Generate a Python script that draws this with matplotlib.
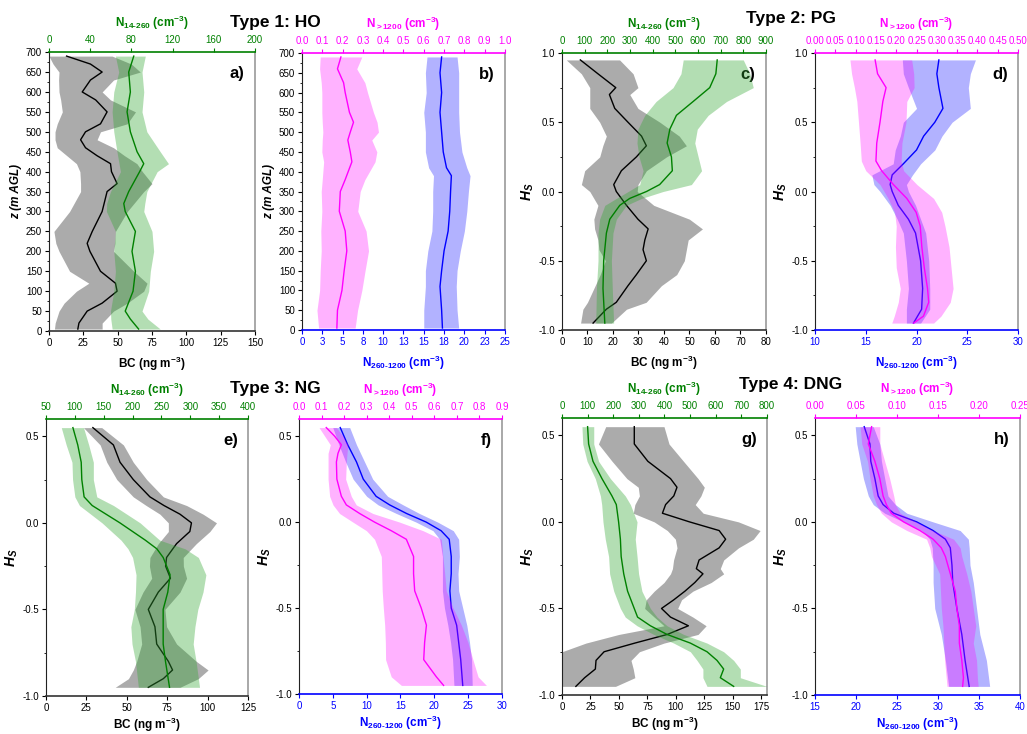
import numpy as np
import matplotlib
matplotlib.use('Agg')
import matplotlib.pyplot as plt
from matplotlib.ticker import MultipleLocator

plt.rcParams['font.family'] = ['Liberation Sans', 'DejaVu Sans']
plt.rcParams['mathtext.fontset'] = 'custom'
plt.rcParams['mathtext.rm'] = 'Liberation Sans:bold'
plt.rcParams['mathtext.bf'] = 'Liberation Sans:bold'
plt.rcParams['mathtext.it'] = 'Liberation Sans:italic:bold'
plt.rcParams['axes.unicode_minus'] = False

# ---------------- Type 1: HO ----------------
# a) BC (bottom axis)
a_bc_z = [5, 20, 50, 70, 100, 120, 150, 200, 220, 250, 300, 350, 370, 400, 420, 440,
          460, 480, 500, 520, 550, 580, 600, 630, 650, 670, 690]
a_bc = [21, 21.8, 27.8, 38.7, 49.6, 48.4, 37.5, 29.8, 27.8, 31.5, 38.7, 42.3, 49.6, 45.5,
        44.8, 35, 26.6, 23, 26.6, 37.5, 42.3, 34, 24.2, 30.2, 38.7, 30.2, 12.8]
a_bc_lo = [4, 4.5, 7.3, 11, 20, 29, 15, 7.3, 5, 3.6, 15, 23, 23, 22.5, 20, 13, 6, 4.4,
           4.4, 6, 9.7, 8.5, 7.3, 7, 7.3, 3, 0]
a_bc_hi = [38.7, 38.7, 47, 57, 69, 71.4, 61.7, 47, 48, 48.4, 57, 69, 75, 68, 64, 55, 47,
           35, 37.5, 56.9, 63, 44.8, 38.7, 47, 66.5, 60, 46]
# a) N14-260 (top axis)
a_n_z = [5, 30, 50, 100, 150, 200, 250, 300, 320, 350, 400, 420, 450, 500, 550, 600, 650, 690]
a_n = [87, 79, 74, 81.6, 83.9, 80.6, 83.9, 74, 72.6, 77.4, 88, 92, 85.5, 79, 75.8, 79, 77.4, 82.3]
a_n_lo = [61.3, 60, 59.7, 62.9, 64.5, 62.9, 64.5, 55.8, 56, 59.7, 69.4, 68, 66, 62.9, 61.3,
          62.9, 67.7, 64.5]
a_n_hi = [108, 96, 90.3, 96.8, 98.4, 101.6, 100, 92, 93, 95, 105, 116, 108, 95, 90.3, 92,
          90.3, 93.5]

# b) N260-1200 (bottom axis)
b_nb_z = [5, 50, 110, 150, 200, 250, 300, 350, 390, 410, 450, 500, 550, 600, 650, 690]
b_nb = [17.3, 17.2, 17.0, 17.2, 17.5, 18.0, 18.2, 18.3, 18.4, 17.8, 17.4, 17.2, 17.0, 17.2, 17.0, 17.2]
b_nb_lo = [15.0, 15.0, 15.2, 15.2, 15.5, 16.0, 16.1, 16.1, 16.2, 15.6, 15.2, 15.2, 15.0, 15.3, 15.2, 15.4]
b_nb_hi = [19.3, 19.1, 19.0, 19.1, 19.5, 20.0, 20.3, 20.5, 20.7, 20.3, 19.7, 19.4, 19.3, 19.3, 19.3, 19.1]
# b) N>1200 (top axis)
b_nt_z = [5, 50, 100, 150, 200, 250, 300, 350, 380, 425, 450, 480, 500, 525, 550, 600, 625, 660, 690]
b_nt = [0.172, 0.175, 0.197, 0.208, 0.221, 0.213, 0.184, 0.189, 0.213, 0.246, 0.238, 0.226,
        0.238, 0.254, 0.234, 0.213, 0.205, 0.175, 0.192]
b_nt_lo = [0.082, 0.074, 0.087, 0.09, 0.095, 0.093, 0.098, 0.095, 0.1, 0.107, 0.098, 0.1,
           0.103, 0.1, 0.098, 0.098, 0.095, 0.087, 0.09]
b_nt_hi = [0.262, 0.274, 0.295, 0.311, 0.328, 0.316, 0.275, 0.287, 0.31, 0.36, 0.369, 0.344,
           0.377, 0.37, 0.352, 0.323, 0.31, 0.27, 0.295]

# ---------------- Type 2: PG ----------------
c_bc_h = [0.95, 0.85, 0.75, 0.7, 0.6, 0.5, 0.4, 0.33, 0.25, 0.15, 0.05, 0.0, -0.1, -0.2,
          -0.27, -0.35, -0.42, -0.5, -0.6, -0.68, -0.8, -0.85, -0.95]
c_bc = [7.2, 14.1, 21.1, 18.6, 20.7, 25.9, 31.2, 33.1, 29.2, 23.3, 20.3, 21.3, 25.3, 29.8,
        33.8, 32.5, 31.8, 33.1, 29.2, 25.9, 21.3, 17.4, 12.2]
c_bc_lo = [1.7, 7.6, 10.9, 10.9, 10.9, 14.8, 17.4, 16, 14.8, 8.9, 7.6, 10.9, 14.1, 12.5,
           12.8, 14.1, 14.5, 17, 15, 13, 10, 8.2, 7.3]
c_bc_hi = [22.6, 27.9, 29.8, 26.6, 29.8, 38.4, 46, 48.8, 41, 33.1, 29.8, 29.5, 36, 50,
           55.1, 49.5, 48.8, 48, 45, 39, 33, 25.3, 19.4]
c_n_h = [0.95, 0.85, 0.75, 0.65, 0.55, 0.45, 0.35, 0.25, 0.15, 0.05, 0.0, -0.05, -0.1, -0.2,
         -0.3, -0.5, -0.7, -0.95]
c_n = [685, 679, 652, 579, 505, 476, 464, 483, 487, 431, 373, 299, 255, 211, 196, 184, 181, 189]
c_n_lo = [535, 525, 490, 415, 365, 335, 331, 340, 358, 343, 292, 240, 189, 166, 159, 159, 152, 149]
c_n_hi = [800, 829, 844, 726, 645, 597, 586, 601, 616, 571, 446, 351, 284, 240, 225, 218, 222, 228]

d_nb_h = [0.95, 0.85, 0.75, 0.6, 0.5, 0.4, 0.3, 0.2, 0.12, 0.05, 0.0, -0.1, -0.2, -0.3,
          -0.5, -0.7, -0.85, -0.95]
d_nb = [22.2, 22.0, 22.2, 22.6, 21.8, 20.7, 20.0, 18.7, 17.6, 17.4, 17.6, 18.2, 19.2, 19.9,
        20.4, 20.6, 20.5, 19.7]
d_nb_lo = [18.6, 18.7, 19.2, 20.0, 18.7, 18.4, 17.9, 17.7, 15.6, 15.8, 16.4, 17.4, 18.1,
           18.7, 19.0, 19.2, 19.0, 19.0]
d_nb_hi = [25.8, 25.3, 25.1, 25.3, 23.5, 22.5, 21.8, 20.4, 19.6, 19.0, 19.2, 19.9, 20.4,
           20.9, 21.2, 21.3, 21.3, 20.4]
d_nt_h = [0.95, 0.85, 0.75, 0.65, 0.5, 0.35, 0.22, 0.15, 0.05, -0.05, -0.15, -0.25, -0.4,
          -0.55, -0.7, -0.8, -0.9, -0.95]
d_nt = [0.148, 0.154, 0.175, 0.167, 0.16, 0.152, 0.15, 0.164, 0.193, 0.226, 0.249, 0.259,
        0.263, 0.269, 0.277, 0.28, 0.267, 0.243]
d_nt_lo = [0.086, 0.09, 0.097, 0.103, 0.107, 0.111, 0.114, 0.125, 0.16, 0.18, 0.196, 0.2,
           0.198, 0.2, 0.21, 0.205, 0.195, 0.189]
d_nt_hi = [0.238, 0.243, 0.244, 0.226, 0.224, 0.214, 0.212, 0.218, 0.251, 0.292, 0.312,
           0.32, 0.33, 0.335, 0.34, 0.333, 0.31, 0.292]

# ---------------- Type 3: NG ----------------
e_bc_h = [0.55, 0.45, 0.35, 0.25, 0.15, 0.1, 0.05, 0.0, -0.05, -0.12, -0.2, -0.25, -0.32,
          -0.4, -0.5, -0.6, -0.7, -0.8, -0.85, -0.9, -0.95]
e_bc = [29, 41.7, 45.8, 54, 64.3, 73, 82.9, 90, 89, 80.8, 74.6, 74, 77, 69.5, 63.3, 67.4,
        68.5, 75.7, 78.3, 72.6, 63.3]
e_bc_lo = [23.2, 33.5, 37.6, 43.8, 54, 62, 70.5, 75.7, 75.7, 69.5, 64.3, 64, 65.4, 60, 55,
           58.2, 59.2, 56.1, 54, 51, 42.8]
e_bc_hi = [34.5, 47.9, 54, 62.3, 72.6, 87, 97.2, 105.5, 101.4, 93, 84.9, 85, 87, 82.9,
           73.6, 74.6, 80.8, 93, 100.3, 94.2, 82.9]
e_n_h = [0.55, 0.45, 0.35, 0.25, 0.15, 0.1, 0.0, -0.1, -0.15, -0.2, -0.3, -0.4, -0.5, -0.6,
         -0.7, -0.8, -0.95]
e_n = [96.6, 105, 111, 112, 116, 130, 178, 222, 242, 253, 265, 261, 253, 253, 253, 257, 264]
e_n_lo = [76.5, 85, 95, 96, 100, 108, 147, 180, 192, 200, 206, 205, 203, 197, 199, 205, 210]
e_n_hi = [115, 124, 132, 132, 138, 167, 213, 247, 291, 314, 327, 322, 313, 308, 305, 310, 316]

f_nb_h = [0.55, 0.45, 0.35, 0.25, 0.15, 0.1, 0.05, 0.0, -0.05, -0.1, -0.2, -0.3, -0.4,
          -0.5, -0.6, -0.7, -0.8, -0.95]
f_nb = [6.1, 7.2, 8.5, 9.5, 11.4, 13.4, 15.9, 18.8, 21.0, 22.2, 22.5, 22.5, 22.3, 22.5,
        23.3, 23.6, 23.9, 24.2]
f_nb_lo = [5.0, 5.9, 6.9, 8.0, 10.0, 11.7, 14.4, 17.3, 19.8, 20.8, 21.2, 21.2, 21.2, 21.5,
           22.0, 22.4, 22.7, 22.9]
f_nb_hi = [7.5, 8.5, 9.7, 10.9, 13.1, 15.4, 17.8, 20.5, 22.8, 23.6, 23.7, 23.5, 23.6, 24.2,
           24.8, 25.2, 25.5, 25.6]
f_nt_h = [0.55, 0.5, 0.45, 0.4, 0.35, 0.25, 0.15, 0.1, 0.05, 0.0, -0.05, -0.1, -0.2, -0.3,
          -0.4, -0.5, -0.6, -0.7, -0.8, -0.9, -0.95]
f_nt = [0.121, 0.158, 0.188, 0.173, 0.166, 0.168, 0.188, 0.21, 0.269, 0.335, 0.409, 0.476,
        0.508, 0.508, 0.513, 0.542, 0.565, 0.557, 0.553, 0.609, 0.641]
f_nt_lo = [0.089, 0.114, 0.139, 0.129, 0.129, 0.129, 0.136, 0.151, 0.18, 0.239, 0.299,
           0.335, 0.365, 0.367, 0.369, 0.374, 0.38, 0.383, 0.384, 0.409, 0.454]
f_nt_hi = [0.166, 0.195, 0.217, 0.213, 0.21, 0.207, 0.232, 0.254, 0.328, 0.446, 0.55,
           0.631, 0.638, 0.646, 0.653, 0.683, 0.72, 0.749, 0.771, 0.794, 0.831]

# ---------------- Type 4: DNG ----------------
g_bc_h = [0.55, 0.45, 0.35, 0.25, 0.2, 0.15, 0.1, 0.05, 0.0, -0.05, -0.1, -0.15, -0.22,
          -0.27, -0.3, -0.35, -0.4, -0.45, -0.5, -0.55, -0.6, -0.65, -0.7, -0.75, -0.8,
          -0.85, -0.9, -0.95]
g_bc = [63.5, 63.5, 75.4, 95.3, 101, 98.2, 91, 88.2, 112, 138, 143.7, 138, 120.4, 118,
        123.8, 116.7, 108, 98.2, 87.4, 95.3, 111, 92.5, 64, 37, 29.9, 29.3, 19.9, 12.2]
g_bc_lo = [38.4, 32, 44, 57, 67, 68, 64, 62.6, 81, 92.5, 99.6, 101, 98, 97, 95.3, 89.6, 81,
           74, 72.6, 81, 89.6, 50, 21, 0, 0, 0, 0, 0]
g_bc_hi = [89.6, 94, 106.7, 119.5, 125, 122, 117, 124, 155, 174, 168, 155, 142, 139, 142,
           131, 115, 105, 101.6, 115, 126.6, 119.5, 89.6, 68, 60.6, 62.6, 64, 47]
g_n_h = [0.55, 0.45, 0.35, 0.25, 0.15, 0.1, 0.0, -0.1, -0.2, -0.3, -0.4, -0.5, -0.55, -0.6,
         -0.65, -0.7, -0.75, -0.8, -0.85, -0.9, -0.95]
g_n = [100, 104, 121, 156, 195, 212, 221, 228, 231, 241, 256, 282, 295, 345, 410, 501, 566,
       605, 631, 618, 670]
g_n_lo = [78, 81, 98, 130, 150, 155, 160, 169, 182, 186, 202, 228, 247, 293, 358, 436, 501,
          527, 550, 550, 566]
g_n_hi = [124, 124, 143, 189, 247, 267, 293, 286, 293, 299, 312, 345, 371, 410, 475, 566,
          631, 670, 696, 696, 800]

h_nb_h = [0.55, 0.45, 0.35, 0.25, 0.15, 0.1, 0.05, 0.0, -0.05, -0.1, -0.15, -0.25, -0.35,
          -0.5, -0.65, -0.8, -0.95]
h_nb = [21.0, 21.7, 21.8, 22.3, 22.7, 23.3, 24.6, 27.4, 29.4, 30.9, 31.5, 31.7, 31.8, 32.3,
        32.9, 33.3, 33.8]
h_nb_lo = [19.9, 20.1, 20.5, 20.9, 21.5, 22.1, 23.5, 25.8, 28.0, 29.0, 29.3, 29.4, 29.4,
           29.6, 30.4, 30.9, 31.3]
h_nb_hi = [22.1, 22.9, 23.1, 23.5, 23.9, 24.8, 26.2, 29.4, 32.7, 33.7, 33.8, 33.9, 34.3,
           34.7, 35.1, 35.9, 36.3]
h_nt_h = [0.55, 0.45, 0.35, 0.25, 0.15, 0.1, 0.05, 0.0, -0.05, -0.1, -0.15, -0.2, -0.3,
          -0.4, -0.5, -0.6, -0.7, -0.8, -0.9, -0.95]
h_nt = [0.069, 0.065, 0.073, 0.079, 0.083, 0.087, 0.093, 0.108, 0.128, 0.144, 0.154, 0.159,
        0.165, 0.171, 0.173, 0.176, 0.176, 0.179, 0.181, 0.18]
h_nt_lo = [0.055, 0.057, 0.064, 0.067, 0.071, 0.075, 0.081, 0.093, 0.112, 0.136, 0.14,
           0.142, 0.152, 0.153, 0.154, 0.156, 0.157, 0.158, 0.16, 0.161]
h_nt_hi = [0.079, 0.079, 0.085, 0.091, 0.096, 0.098, 0.104, 0.124, 0.144, 0.169, 0.177,
           0.179, 0.185, 0.19, 0.193, 0.196, 0.193, 0.197, 0.198, 0.199]

# tick labels of panel b (Origin rounds the 2.5 steps)
b_ticklabels = ['0', '3', '5', '8', '10', '13', '15', '18', '20', '23', '25']

# styles
GREEN = '#008000'
MAG = '#ff00ff'
BLUE = '#0000ff'
sty_bc = dict(line='k', fill='k', alpha=0.33, label='BC (ng m$^{-3}$)', col='k')
sty_n14 = dict(line=GREEN, fill='#33a633', alpha=0.37, label='N$_{14‐260}$ (cm$^{-3}$)', col=GREEN)
sty_nb = dict(line=BLUE, fill=BLUE, alpha=0.3, label='N$_{260‐1200}$ (cm$^{-3}$)', col=BLUE)
sty_nt = dict(line=MAG, fill=MAG, alpha=0.3, label='N$_{>1200}$ (cm$^{-3}$)', col=MAG)

fig = plt.figure(figsize=(10.27, 7.34), dpi=100)


def series(ax, y, m, lo, hi, s):
    ax.fill_betweenx(y, lo, hi, color=s['fill'], alpha=s['alpha'], lw=0)
    ax.plot(m, y, color=s['line'], lw=1.0)


def panel(rect, ylim, ymaj, ylabel, bot, top, letter, xpad=5):
    ax = fig.add_axes(rect)
    ax2 = ax.twiny()
    bs, bdata, bxlim, bticks, blabels = bot
    ts, tdata, txlim, tticks, tlabels = top
    series(ax, *bdata, bs)
    series(ax2, *tdata, ts)
    ax.set_ylim(*ylim)
    ax.set_xlim(*bxlim)
    ax2.set_xlim(*txlim)
    ax.set_xticks(bticks, blabels)
    ax2.set_xticks(tticks, tlabels)
    ax.yaxis.set_major_locator(MultipleLocator(ymaj))
    ax.yaxis.set_minor_locator(MultipleLocator(ymaj / 2))
    if ymaj < 1:
        ax.set_yticks(np.arange(-1.0, ylim[1] + 0.01, ymaj),
                      ['%.1f' % v for v in np.arange(-1.0, ylim[1] + 0.01, ymaj)])
    ax.tick_params(axis='both', which='major', labelsize=7, length=3, width=0.8, pad=2)
    ax.tick_params(axis='y', which='minor', length=1.8, width=0.6)
    ax.tick_params(axis='x', colors=bs['col'])
    ax.tick_params(axis='y', colors='k')
    ax2.tick_params(axis='x', which='major', labelsize=7, length=3, width=0.8, pad=2,
                    colors=ts['col'])
    for sp in ['bottom', 'left', 'right']:
        ax2.spines[sp].set_visible(False)
    ax.spines['top'].set_visible(False)
    ax2.spines['top'].set_color(ts['col'])
    ax2.spines['top'].set_linewidth(1.2)
    ax.spines['bottom'].set_color(bs['col'] if bs['col'] != 'k' else '#333333')
    ax.spines['bottom'].set_linewidth(1.2)
    ax.spines['left'].set_color('#222222')
    ax.spines['right'].set_color('#999999')
    ax.spines['right'].set_linewidth(1.2)
    ax.set_xlabel(bs['label'], color=bs['col'], fontsize=8.5, fontweight='bold', labelpad=xpad)
    ax2.set_xlabel(ts['label'], color=ts['col'], fontsize=8.5, fontweight='bold', labelpad=6)
    if ylabel == 'z':
        ax.set_ylabel('z (m AGL)', fontsize=8.5, fontweight='bold', fontstyle='italic', labelpad=3)
    else:
        ax.set_ylabel('$H_S$', fontsize=10, labelpad=2)
    ax.text(0.95, 0.95, letter, transform=ax.transAxes, ha='right', va='top',
            fontsize=12, fontweight='bold')


bc_ticks = lambda top: np.arange(0, top + 1, 25)

panel((0.0477, 0.549, 0.2006, 0.380), (0, 700), 50, 'z',
      (sty_bc, (a_bc_z, a_bc, a_bc_lo, a_bc_hi), (0, 150), bc_ticks(150),
       [str(v) for v in bc_ticks(150)]),
      (sty_n14, (a_n_z, a_n, a_n_lo, a_n_hi), (0, 200), np.arange(0, 201, 40),
       [str(v) for v in np.arange(0, 201, 40)]), 'a)')
panel((0.294, 0.5504, 0.1977, 0.3774), (0, 700), 50, 'z',
      (sty_nb, (b_nb_z, b_nb, b_nb_lo, b_nb_hi), (0, 25), np.arange(0, 25.1, 2.5), b_ticklabels),
      (sty_nt, (b_nt_z, b_nt, b_nt_lo, b_nt_hi), (0, 1), np.arange(0, 1.01, 0.1),
       ['%.1f' % v for v in np.arange(0, 1.01, 0.1)]), 'b)')
panel((0.5472, 0.5504, 0.1986, 0.3774), (-1, 1), 0.5, 'h',
      (sty_bc, (c_bc_h, c_bc, c_bc_lo, c_bc_hi), (0, 80), np.arange(0, 81, 10),
       [str(v) for v in np.arange(0, 81, 10)]),
      (sty_n14, (c_n_h, c_n, c_n_lo, c_n_hi), (0, 900), np.arange(0, 901, 100),
       [str(v) for v in np.arange(0, 901, 100)]), 'c)')
panel((0.7936, 0.5504, 0.1977, 0.3774), (-1, 1), 0.5, 'h',
      (sty_nb, (d_nb_h, d_nb, d_nb_lo, d_nb_hi), (10, 30), np.arange(10, 31, 5),
       [str(v) for v in np.arange(10, 31, 5)]),
      (sty_nt, (d_nt_h, d_nt, d_nt_lo, d_nt_hi), (0, 0.5), np.arange(0, 0.501, 0.05),
       ['%.2f' % v for v in np.arange(0, 0.501, 0.05)]), 'd)')
panel((0.0448, 0.0518, 0.1967, 0.3774), (-1, 0.6), 0.5, 'h',
      (sty_bc, (e_bc_h, e_bc, e_bc_lo, e_bc_hi), (0, 125), bc_ticks(125),
       [str(v) for v in bc_ticks(125)]),
      (sty_n14, (e_n_h, e_n, e_n_lo, e_n_hi), (50, 400), np.arange(50, 401, 50),
       [str(v) for v in np.arange(50, 401, 50)]), 'e)', xpad=2)
panel((0.2911, 0.0545, 0.1977, 0.3747), (-1, 0.6), 0.5, 'h',
      (sty_nb, (f_nb_h, f_nb, f_nb_lo, f_nb_hi), (0, 30), np.arange(0, 31, 5),
       [str(v) for v in np.arange(0, 31, 5)]),
      (sty_nt, (f_nt_h, f_nt, f_nt_lo, f_nt_hi), (0, 0.9), np.arange(0, 0.901, 0.1),
       ['%.1f' % v for v in np.arange(0, 0.901, 0.1)]), 'f)', xpad=2)
panel((0.5472, 0.0531, 0.1996, 0.3774), (-1, 0.6), 0.5, 'h',
      (sty_bc, (g_bc_h, g_bc, g_bc_lo, g_bc_hi), (0, 180), bc_ticks(175),
       [str(v) for v in bc_ticks(175)]),
      (sty_n14, (g_n_h, g_n, g_n_lo, g_n_hi), (0, 800), np.arange(0, 801, 100),
       [str(v) for v in np.arange(0, 801, 100)]), 'g)', xpad=2)
panel((0.7936, 0.0531, 0.1996, 0.3774), (-1, 0.6), 0.5, 'h',
      (sty_nb, (h_nb_h, h_nb, h_nb_lo, h_nb_hi), (15, 40), np.arange(15, 41, 5),
       [str(v) for v in np.arange(15, 41, 5)]),
      (sty_nt, (h_nt_h, h_nt, h_nt_lo, h_nt_hi), (0, 0.25), np.arange(0, 0.251, 0.05),
       ['%.2f' % v for v in np.arange(0, 0.251, 0.05)]), 'h)', xpad=2)

fig.text(275 / 1027, 1 - 22 / 734, 'Type 1: HO', ha='center', va='center', fontsize=12.5, fontweight='bold')
fig.text(791 / 1027, 1 - 19 / 734, 'Type 2: PG', ha='center', va='center', fontsize=12.5, fontweight='bold')
fig.text(275 / 1027, 1 - 388 / 734, 'Type 3: NG', ha='center', va='center', fontsize=12.5, fontweight='bold')
fig.text(791 / 1027, 1 - 385 / 734, 'Type 4: DNG', ha='center', va='center', fontsize=12.5, fontweight='bold')

fig.savefig('out.png', dpi=100)
